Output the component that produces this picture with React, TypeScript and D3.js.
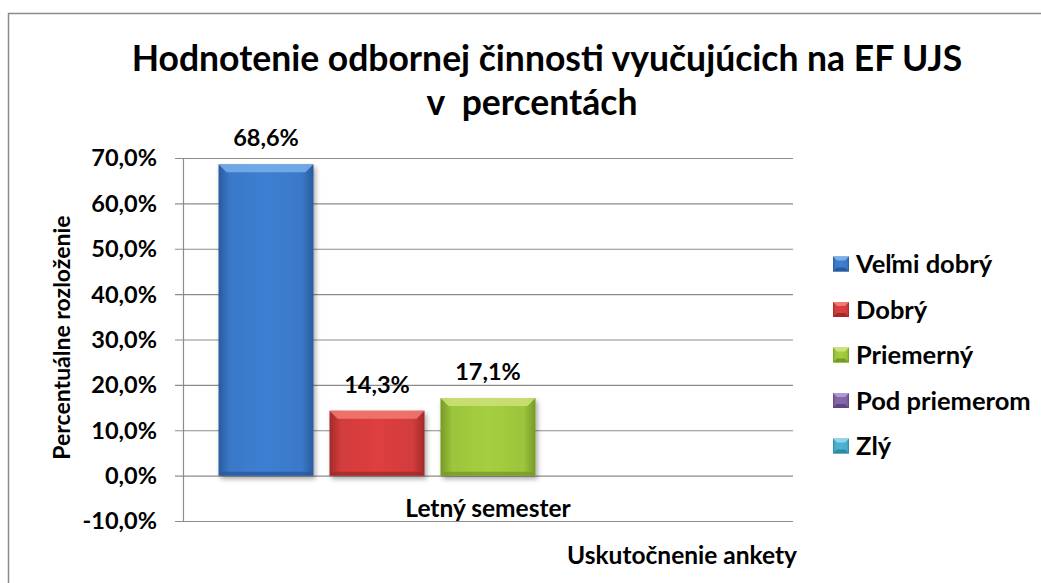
import React, { useEffect, useRef } from 'react';
import * as d3 from 'd3';

// chart data
const categories = ['Letný semester'];
const seriesNames = ['Veľmi dobrý', 'Dobrý', 'Priemerný', 'Pod priemerom', 'Zlý'];
const seriesValues = [68.6, 14.3, 17.1, 0, 0];
const yTicks = [-10, 0, 10, 20, 30, 40, 50, 60, 70];

const titleLines = ['Hodnotenie odbornej činnosti vyučujúcich na EF UJS', 'v  percentách'];
const yTitle = 'Percentuálne rozloženie';
const xTitle = 'Uskutočnenie ankety';

// base, light (top bevel), dark (edges)
const palette = [
  ['#3a78c8', '#79b0ea', '#2a5a9c'],
  ['#d23c3c', '#f27a74', '#a22a2a'],
  ['#9cc43c', '#cde27a', '#769a26'],
  ['#8064a2', '#b09bd0', '#5e4680'],
  ['#4bacc6', '#8fd6ea', '#2f8aa2'],
];

const FONT = 'Lato, "Open Sans", sans-serif';
const fmt = (v: number) => v.toFixed(1).replace('.', ',') + '%';

const App = () => {
  const svgRef = useRef<SVGSVGElement>(null);

  useEffect(() => {
    const svg = d3.select(svgRef.current);
    svg.selectAll('*').remove();

    const width = 1041;
    const height = 583;
    const plot = { left: 183, right: 793, top: 158, bottom: 521 };

    svg.attr('width', width).attr('height', height);

    const defs = svg.append('defs');
    palette.forEach((c, i) => {
      const g = defs.append('linearGradient').attr('id', `bar-${i}`)
        .attr('x1', 0).attr('x2', 1).attr('y1', 0).attr('y2', 0);
      g.append('stop').attr('offset', '0%').attr('stop-color', c[2]);
      g.append('stop').attr('offset', '12%').attr('stop-color', c[0]);
      g.append('stop').attr('offset', '50%').attr('stop-color', d3.color(c[0])!.brighter(0.15).formatHex());
      g.append('stop').attr('offset', '88%').attr('stop-color', c[0]);
      g.append('stop').attr('offset', '100%').attr('stop-color', c[2]);
    });
    const shadow = defs.append('filter').attr('id', 'shadow')
      .attr('x', '-20%').attr('y', '-20%').attr('width', '140%').attr('height', '140%');
    shadow.append('feDropShadow').attr('dx', 2).attr('dy', 3).attr('stdDeviation', 2.5)
      .attr('flood-color', '#000').attr('flood-opacity', 0.35);

    // outer border
    svg.append('rect')
      .attr('x', 8.5).attr('y', 13.5).attr('width', 1100).attr('height', 700)
      .attr('fill', '#fff').attr('stroke', '#8c8c8c').attr('stroke-width', 1.5);

    // title
    const title = svg.append('text')
      .attr('text-anchor', 'middle')
      .style('font-family', FONT).style('font-weight', 700).style('font-size', '35.5px')
      .style('white-space', 'pre').attr('fill', '#000');
    title.append('tspan').attr('x', 547).attr('y', 71).text(titleLines[0]);
    title.append('tspan').attr('x', 532).attr('y', 115).text(titleLines[1]);

    const y = d3.scaleLinear().domain([-10, 70]).range([plot.bottom, plot.top]);
    const x0 = d3.scaleBand().domain(categories).range([plot.left, plot.right]).padding(0);
    const x1 = d3.scaleBand().domain(seriesNames).range([0, x0.bandwidth()])
      .paddingInner(0.144).paddingOuter(0.32);

    // gridlines
    svg.append('g').selectAll('line').data(yTicks).enter().append('line')
      .attr('x1', plot.left - 8).attr('x2', plot.right)
      .attr('y1', d => y(d) + 0.5).attr('y2', d => y(d) + 0.5)
      .attr('stroke', '#8c8c8c').attr('stroke-width', 1.2);

    // y axis line
    svg.append('line')
      .attr('x1', plot.left + 0.5).attr('x2', plot.left + 0.5)
      .attr('y1', plot.top).attr('y2', plot.bottom)
      .attr('stroke', '#8c8c8c').attr('stroke-width', 1.2);

    // y tick labels
    svg.append('g').selectAll('text').data(yTicks).enter().append('text')
      .attr('x', 157).attr('y', d => y(d)).attr('dy', '0.36em')
      .attr('text-anchor', 'end')
      .style('font-family', FONT).style('font-weight', 700).style('font-size', '23.5px')
      .text(d => fmt(d));

    // bars
    const barData = categories.flatMap(cat =>
      seriesNames.map((name, i) => ({ cat, name, i, value: seriesValues[i] }))
    ).filter(d => d.value !== 0);

    const bars = svg.append('g').selectAll('g').data(barData).enter().append('g')
      .attr('filter', 'url(#shadow)');

    bars.append('rect')
      .attr('x', d => x0(d.cat)! + x1(d.name)!)
      .attr('y', d => y(Math.max(0, d.value)))
      .attr('width', x1.bandwidth())
      .attr('height', d => Math.abs(y(0) - y(d.value)))
      .attr('fill', d => `url(#bar-${d.i})`);

    // top bevel
    const bev = 8;
    bars.append('path')
      .attr('d', d => {
        const xl = x0(d.cat)! + x1(d.name)!;
        const xr = xl + x1.bandwidth();
        const yt = y(d.value);
        return `M${xl},${yt}L${xr},${yt}L${xr - bev},${yt + bev}L${xl + bev},${yt + bev}Z`;
      })
      .attr('fill', d => palette[d.i][1]).attr('opacity', 0.85);
    // bottom bevel
    bars.append('path')
      .attr('d', d => {
        const xl = x0(d.cat)! + x1(d.name)!;
        const xr = xl + x1.bandwidth();
        const yb = y(0);
        return `M${xl},${yb}L${xr},${yb}L${xr - 4},${yb - 4}L${xl + 4},${yb - 4}Z`;
      })
      .attr('fill', d => palette[d.i][2]).attr('opacity', 0.8);

    // value labels
    svg.append('g').selectAll('text').data(barData).enter().append('text')
      .attr('x', d => x0(d.cat)! + x1(d.name)! + x1.bandwidth() / 2)
      .attr('y', d => y(d.value) - 18)
      .attr('text-anchor', 'middle')
      .style('font-family', FONT).style('font-weight', 700).style('font-size', '23.5px')
      .text(d => fmt(d.value));

    // category label
    svg.append('g').selectAll('text').data(categories).enter().append('text')
      .attr('x', d => x0(d)! + x0.bandwidth() / 2)
      .attr('y', 517)
      .attr('text-anchor', 'middle')
      .style('font-family', FONT).style('font-weight', 700).style('font-size', '24.5px')
      .text(d => d);

    // axis titles
    svg.append('text')
      .attr('x', 797).attr('y', 564)
      .attr('text-anchor', 'end')
      .style('font-family', FONT).style('font-weight', 700).style('font-size', '24.5px')
      .text(xTitle);

    svg.append('text')
      .attr('transform', `translate(70,${(plot.top + plot.bottom) / 2 - 2}) rotate(-90)`)
      .attr('text-anchor', 'middle')
      .style('font-family', FONT).style('font-weight', 700).style('font-size', '23px')
      .text(yTitle);

    // legend
    const legend = svg.append('g').selectAll('g').data(seriesNames).enter().append('g')
      .attr('transform', (d, i) => `translate(833,${264 + i * 45.5})`);
    legend.append('rect')
      .attr('x', 0).attr('y', -7.5).attr('width', 16).attr('height', 15)
      .attr('fill', (d, i) => `url(#bar-${i})`);
    legend.append('path')
      .attr('d', 'M0,-7.5L16,-7.5L12,-3.5L4,-3.5Z')
      .attr('fill', (d, i) => palette[i][1]);
    legend.append('path')
      .attr('d', 'M0,7.5L16,7.5L12,3.5L4,3.5Z')
      .attr('fill', (d, i) => palette[i][2]);
    legend.append('text')
      .attr('x', 23).attr('y', 0).attr('dy', '0.36em')
      .style('font-family', FONT).style('font-weight', 700).style('font-size', '25.5px')
      .text(d => d);
  }, []);

  return (
    <div style={{ position: 'absolute', left: 0, top: 0 }}>
      <svg ref={svgRef} style={{ display: 'block' }}></svg>
    </div>
  );
};

export default App;
